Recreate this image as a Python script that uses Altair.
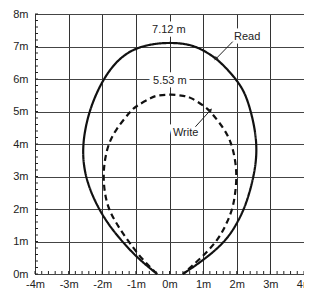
import altair as alt
import pandas as pd

# Read range (solid curve), traced from bottom-left, over the top, to bottom-right
read_x = [-0.37, -0.93, -1.41, -1.80, -2.10, -2.33, -2.49, -2.57, -2.57, -2.50, -2.38, -2.20, -1.96,
          -1.62, -1.15, -0.55, 0.00, 0.45, 0.85, 1.37, 1.72, 1.97, 2.17, 2.30, 2.42, 2.53, 2.59,
          2.58, 2.50, 2.38, 2.22, 1.98, 1.66, 1.07, 0.40]
read_y = [0.00, 0.47, 1.00, 1.50, 2.00, 2.50, 3.00, 3.50, 4.00, 4.50, 5.00, 5.50, 6.00,
          6.50, 6.90, 7.08, 7.12, 7.09, 6.98, 6.66, 6.30, 6.00, 5.70, 5.40, 5.00, 4.50, 4.00,
          3.50, 3.00, 2.50, 2.00, 1.50, 1.00, 0.47, 0.00]

# Write range (dashed curve)
write_x = [-0.37, -0.83, -1.22, -1.55, -1.82, -1.93, -1.97, -1.93, -1.82, -1.61, -1.17, -1.02,
           -0.49, -0.34, 0.05, 0.44, 0.63, 1.07, 1.22, 1.66, 1.85, 1.96, 2.00, 1.96, 1.88,
           1.68, 1.41, 0.92, 0.40]
write_y = [0.00, 0.47, 1.00, 1.50, 2.00, 2.50, 3.00, 3.50, 4.00, 4.43, 5.00, 5.15,
           5.46, 5.50, 5.53, 5.48, 5.44, 5.14, 5.00, 4.43, 4.00, 3.50, 3.00, 2.50, 2.00,
           1.50, 1.00, 0.47, 0.00]

x_major = [-4, -3, -2, -1, 0, 1, 2, 3, 4]
y_major = [0, 1, 2, 3, 4, 5, 6, 7, 8]
x_minor = [round(-4 + 0.2 * i, 1) for i in range(41)]
y_minor = [round(0.2 * i, 1) for i in range(41)]

# Annotations
label_text = ["7.12 m", "5.53 m", "Read", "Write"]
label_x = [-0.02, 0.01, 2.31, 0.48]
label_y = [7.52, 5.93, 7.29, 4.35]

arrow_name = ["Read", "Write"]
arrow_x = [1.88, 0.77]
arrow_y = [7.15, 4.53]
arrow_x2 = [1.39, 1.21]
arrow_y2 = [6.63, 5.03]

rows = []
for i, (a, b) in enumerate(zip(read_x, read_y)):
    rows.append({"curve": "Read", "order": i, "x": a, "y": b})
for i, (a, b) in enumerate(zip(write_x, write_y)):
    rows.append({"curve": "Write", "order": i, "x": a, "y": b})
curves = pd.DataFrame(rows)

labels = pd.DataFrame({"text": label_text, "x": label_x, "y": label_y})
arrows = pd.DataFrame({"name": arrow_name, "x": arrow_x, "y": arrow_y,
                       "x2": arrow_x2, "y2": arrow_y2})
xminor_df = pd.DataFrame({"v": x_minor})
yminor_df = pd.DataFrame({"v": y_minor})

FONT = "Liberation Sans"
W, H = 269, 260
xs = alt.Scale(domain=[-4, 4], nice=False, zero=False)
ys = alt.Scale(domain=[0, 8], nice=False, zero=False)

x_axis = alt.Axis(
    values=x_major, labelExpr="datum.value + 'm'", grid=True, gridColor="#333",
    gridOpacity=1, gridWidth=1, ticks=False, domain=False, labelFont=FONT,
    labelFontSize=11, labelColor="#222", labelPadding=4, labelFlush=False,
    labelOverlap=False, orient="bottom", title=None)
y_axis = alt.Axis(
    values=y_major, labelExpr="datum.value + 'm'", grid=True, gridColor="#444",
    gridOpacity=1, gridWidth=1, ticks=False, domain=False, labelFont=FONT,
    labelFontSize=11, labelColor="#222", labelPadding=7, labelFlush=False,
    labelOverlap=False, orient="left", title=None)


def X(field):
    return alt.X(field, scale=xs, axis=x_axis)


def Y(field):
    return alt.Y(field, scale=ys, axis=y_axis)


lines = alt.Chart(curves).mark_line(
    interpolate="basis", color="#111", strokeWidth=2.2
).encode(
    x=X("x:Q"),
    y=Y("y:Q"),
    strokeDash=alt.StrokeDash("curve:N", scale=alt.Scale(
        domain=["Read", "Write"], range=[[1, 0], [6, 4]]), legend=None),
    order="order:Q",
    detail="curve:N",
)

# minor ticks, pointing into the plot from the bottom and left edges
xticks = alt.Chart(xminor_df).mark_rule(color="#222", strokeWidth=1).encode(
    x=X("v:Q"), y=alt.value(H - 3), y2=alt.value(H))
yticks = alt.Chart(yminor_df).mark_rule(color="#222", strokeWidth=1).encode(
    y=Y("v:Q"), x=alt.value(0), x2=alt.value(3))

halo = alt.Chart(labels).mark_text(
    font=FONT, fontSize=11, color="white", stroke="white", strokeWidth=7
).encode(x=X("x:Q"), y=Y("y:Q"), text="text:N")

text = alt.Chart(labels).mark_text(
    font=FONT, fontSize=11, color="#222"
).encode(x=X("x:Q"), y=Y("y:Q"), text="text:N")

rules = alt.Chart(arrows).mark_rule(color="#222", strokeWidth=1).encode(
    x=X("x:Q"), y=Y("y:Q"), x2="x2:Q", y2="y2:Q")

head_read = alt.Chart(arrows).transform_filter(alt.datum.name == "Read").mark_point(
    shape="triangle", filled=True, size=20, color="#222", opacity=1, angle=225
).encode(x=X("x2:Q"), y=Y("y2:Q"))

head_write = alt.Chart(arrows).transform_filter(alt.datum.name == "Write").mark_point(
    shape="triangle", filled=True, size=20, color="#222", opacity=1, angle=41
).encode(x=X("x2:Q"), y=Y("y2:Q"))

chart = alt.layer(lines, xticks, yticks, halo, text, rules, head_read, head_write).properties(
    width=W, height=H,
    autosize=alt.AutoSizeParams(type="none"),
    padding={"left": 27, "top": 6, "right": 0, "bottom": 17},
    background="white",
).configure_view(stroke="#111", strokeWidth=1)

chart.save("out.html", embed_options={"renderer": "svg", "actions": False})
